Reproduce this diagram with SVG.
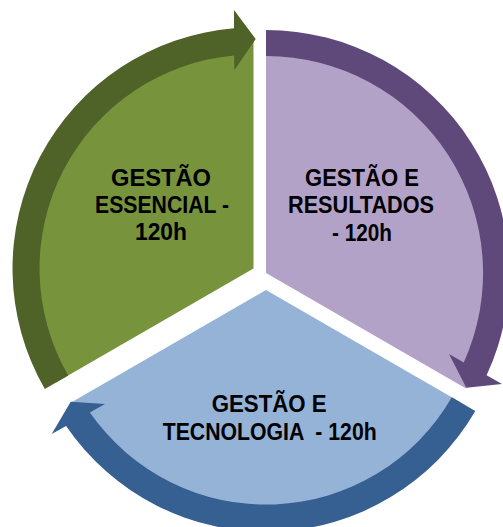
<svg xmlns="http://www.w3.org/2000/svg" width="503" height="527" viewBox="0 0 503 527">
<style>
.lbl{font-family:"Liberation Sans",Arial,sans-serif;font-weight:bold;font-size:23px;fill:#000;white-space:pre}
</style>
<rect width="503" height="527" fill="#fff"/>
<g id="node-essencial">
<path d="M253.5 268.5 L253.5 40.5 A228 228 0 0 0 56 382.5 Z" fill="#77933C"/>
<text class="lbl" x="111" y="186" textLength="100" lengthAdjust="spacingAndGlyphs">GESTÃO</text>
<text class="lbl" x="95" y="213" textLength="134" lengthAdjust="spacingAndGlyphs">ESSENCIAL -</text>
<text class="lbl" x="135" y="240" textLength="52" lengthAdjust="spacingAndGlyphs">120h</text>
</g>
<g id="node-resultados">
<path d="M266 273 L266 42 A231 231 0 0 1 466.05 388.5 Z" fill="#B3A2C7"/>
<text class="lbl" x="305" y="186" textLength="114" lengthAdjust="spacingAndGlyphs">GESTÃO E</text>
<text class="lbl" x="288" y="213" textLength="146" lengthAdjust="spacingAndGlyphs">RESULTADOS</text>
<text class="lbl" x="332" y="241" textLength="60" lengthAdjust="spacingAndGlyphs">- 120h</text>
</g>
<g id="node-tecnologia">
<path d="M266 290 L461.72 403 A226 226 0 0 1 70.28 403 Z" fill="#95B3D7"/>
<text class="lbl" x="211.7" y="412" textLength="115" lengthAdjust="spacingAndGlyphs">GESTÃO E</text>
<text class="lbl" x="162.7" y="440" textLength="214" lengthAdjust="spacingAndGlyphs">TECNOLOGIA  - 120h</text>
</g>
<g id="connectors">
<path d="M44.8 389 A241 241 0 0 1 234 28.3 L234 10 L255.7 39 L234.5 70 L234 55.4 A214 214 0 0 0 68.2 375.5 Z" fill="#4F6228"/>
<path d="M266 30 A243 243 0 0 1 486.6 375.3 L502 384 L466.3 387.7 L449 354 L463.8 362.4 A217 217 0 0 0 266 56 Z" fill="#5F497A"/>
<path d="M475.3 410.9 A241.7 241.7 0 0 1 66.1 425.9 L51.7 434 L70.7 401.7 L105 404 L89.9 412.5 A214.5 214.5 0 0 0 451.8 397.3 Z" fill="#376092"/>
</g>
</svg>
